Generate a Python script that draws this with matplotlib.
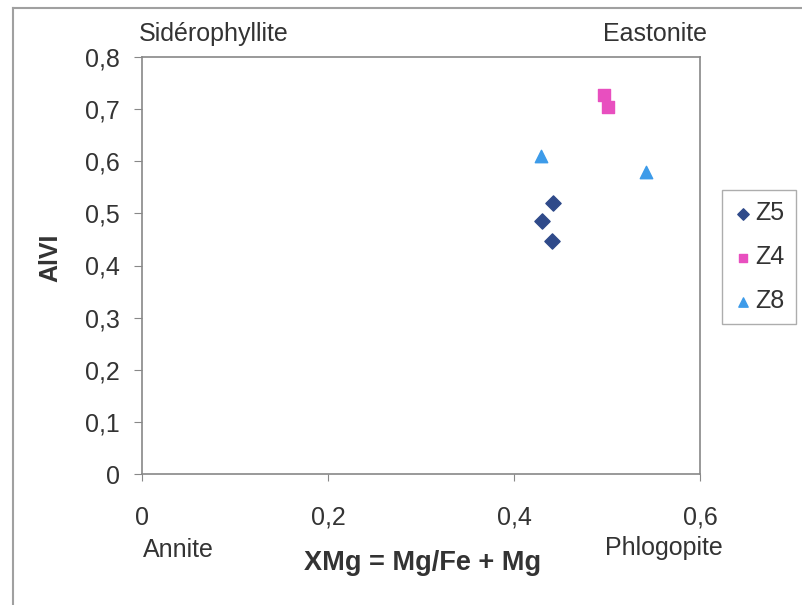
import matplotlib
matplotlib.use("Agg")
import matplotlib.pyplot as plt
from matplotlib.lines import Line2D

plt.rcParams['font.family'] = ['Liberation Sans', 'DejaVu Sans']

z5_x = [0.442, 0.430, 0.441]
z5_y = [0.520, 0.486, 0.447]
z4_x = [0.497, 0.501]
z4_y = [0.727, 0.704]
z8_x = [0.429, 0.542]
z8_y = [0.610, 0.580]

x_ticks = [0, 0.2, 0.4, 0.6]
x_tick_labels = ["0", "0,2", "0,4", "0,6"]
y_ticks = [0, 0.1, 0.2, 0.3, 0.4, 0.5, 0.6, 0.7, 0.8]
y_tick_labels = ["0", "0,1", "0,2", "0,3", "0,4", "0,5", "0,6", "0,7", "0,8"]

W, H = 802, 605
fig = plt.figure(figsize=(W / 100, H / 100), dpi=100)
fig.patch.set_facecolor('white')

def fx(px):
    return px / W

def fy(py):
    return 1 - py / H

# outer frame
fig.add_artist(Line2D([fx(13), fx(13)], [fy(8), fy(604)], color='#a0a0a0', lw=1.5))
fig.add_artist(Line2D([fx(13), fx(801)], [fy(8), fy(8)], color='#a0a0a0', lw=1.5))

ax = fig.add_axes([fx(142), fy(474), fx(700) - fx(142), fy(57) - fy(474)])
ax.set_xlim(0, 0.6)
ax.set_ylim(0, 0.8)

c5, c4, c8 = '#2f4a8a', '#e84fbf', '#3d9be9'
ax.scatter(z5_x, z5_y, marker='D', s=60, color=c5, label='Z5', zorder=3)
ax.scatter(z4_x, z4_y, marker='s', s=70, color=c4, label='Z4', zorder=3)
ax.scatter(z8_x, z8_y, marker='^', s=80, color=c8, label='Z8', zorder=3)

ax.set_xticks(x_ticks)
ax.set_xticklabels(x_tick_labels)
ax.set_yticks(y_ticks)
ax.set_yticklabels(y_tick_labels)
ax.tick_params(axis='x', length=5, pad=18, labelsize=18, color='#888888', labelcolor='#333333')
ax.tick_params(axis='y', length=6, pad=10, labelsize=18, color='#888888', labelcolor='#333333')
for s in ax.spines.values():
    s.set_color('#888888')
    s.set_linewidth(1.2)

fig.text(fx(423), fy(563), "XMg = Mg/Fe + Mg", ha='center', va='center',
         fontsize=19.5, fontweight='bold', color='#333333')
fig.text(fx(50), fy(258), "AlVI", ha='center', va='center', rotation=90,
         fontsize=18, fontweight='bold', color='#333333')

fig.text(fx(139), fy(34), "Sidérophyllite", ha='left', va='center', fontsize=18, color='#333333')
fig.text(fx(707), fy(34), "Eastonite", ha='right', va='center', fontsize=18, color='#333333')
fig.text(fx(143), fy(550), "Annite", ha='left', va='center', fontsize=18, color='#333333')
fig.text(fx(723), fy(548), "Phlogopite", ha='right', va='center', fontsize=18, color='#333333')

leg = ax.legend(loc='center left', bbox_to_anchor=((722 - 142) / (700 - 142), 0.52),
                bbox_transform=ax.transAxes, frameon=True, fancybox=False,
                borderaxespad=0.0,
                fontsize=18, handletextpad=0.1, handlelength=0.8, labelspacing=0.8,
                borderpad=0.45, markerscale=0.75)
leg.get_frame().set_edgecolor('#999999')
leg.get_frame().set_linewidth(1.0)
for t in leg.get_texts():
    t.set_color('#333333')

fig.savefig("out.png", dpi=100, facecolor='white')
